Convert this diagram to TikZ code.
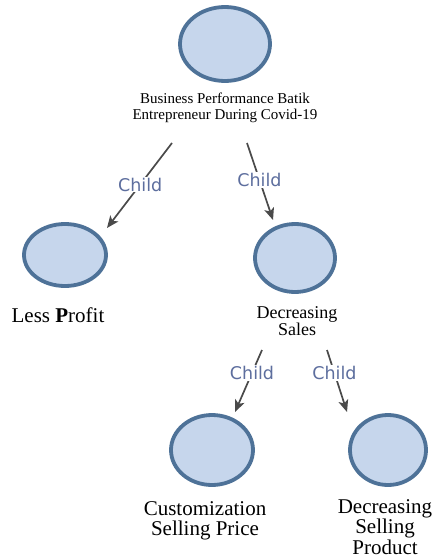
\documentclass[tikz,border=0pt]{standalone}
\usepackage{fontspec}
\setmainfont{Liberation Serif}
\newfontfamily\labelfont{DejaVu Sans}
\usetikzlibrary{shapes.geometric,arrows.meta}
\definecolor{cfill}{HTML}{C6D6EC}
\definecolor{cborder}{HTML}{4E7298}
\definecolor{arr}{HTML}{4A4A4A}
\definecolor{lab}{HTML}{5D6E9E}
\begin{document}
\begin{tikzpicture}[x=1pt,y=-1pt,
 circ/.style={ellipse,draw=cborder,fill=cfill,line width=3.8pt,inner sep=0pt},
 conn/.style={draw=arr,line width=1.7pt,-{Stealth[length=12pt,width=10pt,inset=3pt]}},
 childlab/.style={fill=white,inner sep=1pt,text=lab,font=\labelfont\fontsize{17.5}{17.5}\selectfont},
 txt/.style={align=center,inner sep=0pt,anchor=base}
]
\useasboundingbox[fill=white] (0,0) rectangle (434,559);
% circles
\node[circ,minimum width=90pt,minimum height=74pt] (top) at (225,44) {};
\node[circ,minimum width=82pt,minimum height=62pt] (lp) at (65,255) {};
\node[circ,minimum width=80pt,minimum height=68pt] (ds) at (295,258) {};
\node[circ,minimum width=82pt,minimum height=70pt] (csp) at (212,450) {};
\node[circ,minimum width=76pt,minimum height=70pt] (dsp) at (388,450) {};
% texts (base anchor = last line)
\node[txt,font=\fontsize{15}{17}\selectfont] (ttop) at (225,120) {Business Performance Batik\\Entrepreneur During Covid-19};
\node[txt,font=\fontsize{21}{21}\selectfont] (tlp) at (58,322) {Less \textbf{P}rofit};
\node[txt,font=\fontsize{18}{17}\selectfont] (tds) at (297,335) {Decreasing\\Sales};
\node[txt,font=\fontsize{21}{20}\selectfont] (tcsp) at (205,535) {Customization\\Selling Price};
\node[txt,font=\fontsize{21}{19}\selectfont] (tdsp) at (385,554) {Decreasing\\Selling\\Product};
% connector ends
\coordinate (s1) at (172,143); \coordinate (e1) at (107,228);
\coordinate (s2) at (247,143); \coordinate (e2) at (273,220);
\coordinate (s3) at (262,350); \coordinate (e3) at (235,412);
\coordinate (s4) at (327,350); \coordinate (e4) at (347,412);
\draw[conn] (s1) -- node[childlab,pos=0.49] (c1) {Child} (e1);
\draw[conn] (s2) -- node[childlab,pos=0.48] (c2) {Child} (e2);
\draw[conn] (s3) -- node[childlab,pos=0.37] (c3) {Child} (e3);
\draw[conn] (s4) -- node[childlab,pos=0.37] (c4) {Child} (e4);
\end{tikzpicture}
\end{document}
